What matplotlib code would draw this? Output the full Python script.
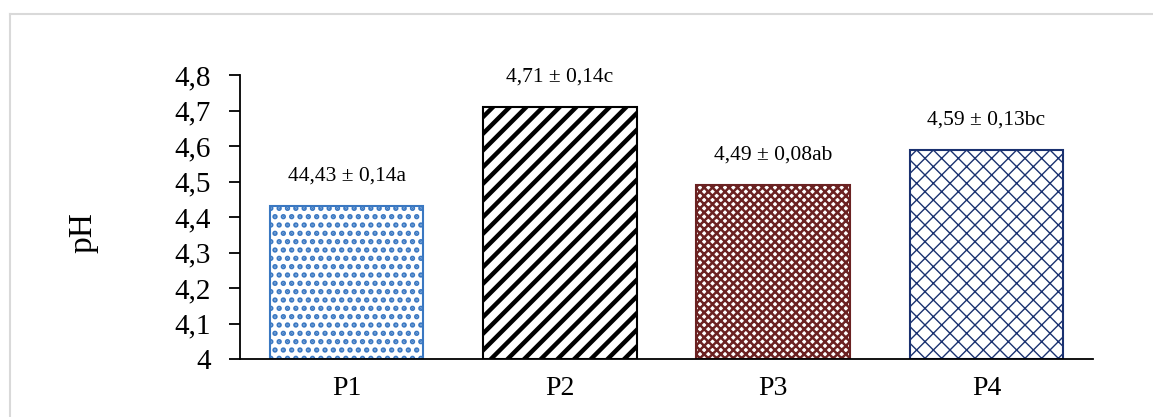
import matplotlib
matplotlib.use("Agg")
import matplotlib.pyplot as plt
from matplotlib.lines import Line2D

categories = ["P1", "P2", "P3", "P4"]
values = [4.43, 4.71, 4.49, 4.59]
labels = ["44,43 ± 0,14a", "4,71 ± 0,14c", "4,49 ± 0,08ab", "4,59 ± 0,13bc"]
yticks = [4.0, 4.1, 4.2, 4.3, 4.4, 4.5, 4.6, 4.7, 4.8]
ytick_labels = ["4", "4,1", "4,2", "4,3", "4,4", "4,5", "4,6", "4,7", "4,8"]

colors = ["#3A78C2", "#000000", "#6B2222", "#1A3170"]
hatches = ["..", "//", "xxxx", "xx"]
hatch_lw = [2.6, 3.2, 1.8, 1.0]

plt.rcParams["font.family"] = ["Liberation Serif", "DejaVu Serif"]

fig = plt.figure(figsize=(11.53, 4.17), dpi=100)
ax = fig.add_axes([240 / 1153, 1 - 359 / 417, (1093 - 240) / 1153, (359 - 75) / 417])

x = list(range(len(categories)))
for i in x:
    plt.rcParams["hatch.linewidth"] = hatch_lw[i]
    ax.bar(i, values[i] - 4.0, bottom=4.0, width=0.72, facecolor="white",
           edgecolor=colors[i], hatch=hatches[i], linewidth=1.5, zorder=2)
    ax.annotate(labels[i], xy=(i, values[i]), xytext=(0, 30), textcoords="offset pixels",
                ha="center", va="center", fontsize=15.5)

ax.set_xlim(-0.5, 3.5)
ax.set_ylim(4.0, 4.8)
ax.set_yticks(yticks)
ax.set_yticklabels(ytick_labels, fontsize=21)
ax.set_xticks(x)
ax.set_xticklabels(categories, fontsize=20)
ax.tick_params(axis="x", length=0, pad=12)
ax.tick_params(axis="y", direction="out", length=8, width=1.3, pad=13)
for s in ["top", "right"]:
    ax.spines[s].set_visible(False)
ax.spines["left"].set_linewidth(1.3)
ax.spines["bottom"].set_linewidth(1.3)
ax.set_ylabel("pH", fontsize=24, labelpad=55, y=0.445)

# outer gray frame
fig.add_artist(Line2D([10 / 1153, 1.0], [1 - 14 / 417, 1 - 14 / 417], transform=fig.transFigure,
                      color="#D9D9D9", linewidth=1.5))
fig.add_artist(Line2D([10 / 1153, 10 / 1153], [1 - 14 / 417, 0.0], transform=fig.transFigure,
                      color="#D9D9D9", linewidth=1.5))

fig.savefig("out.png", dpi=100)
